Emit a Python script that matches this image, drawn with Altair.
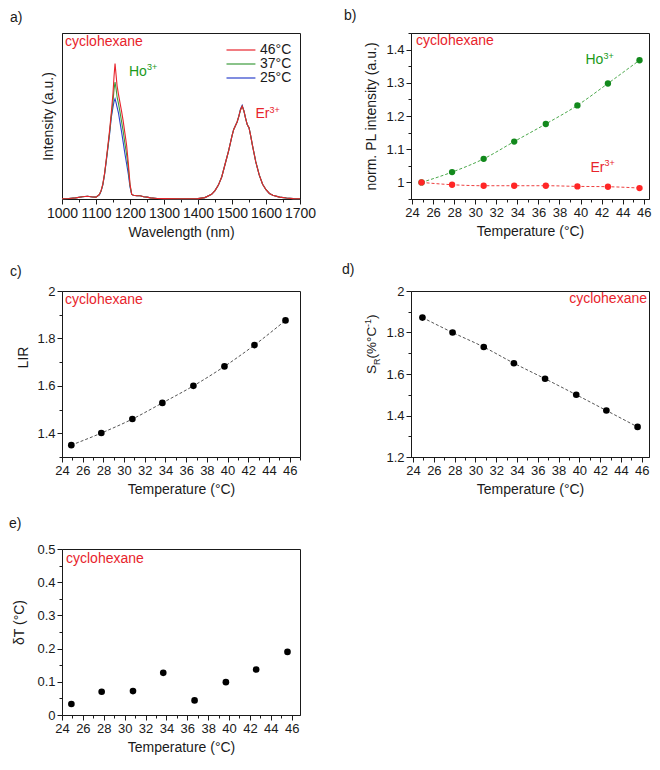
import altair as alt
import pandas as pd

FONT = "Liberation Sans, Arial, Helvetica, sans-serif"
INK = "#1a1a1a"
RED = "#e8242c"
GREEN_LINE = "#3b9b3b"
BLUE_LINE = "#2b40cc"
GREEN_DOT = "#12891c"
GREEN_DASH = "#4aa84a"
GREEN_TXT = "#1a9a1a"
RED_DOT = "#ff2626"
RED_DASH = "#ee4040"
BLACK_DASH = "#555555"
W, H = 238, 166

# ---------------- panel a : emission spectra ----------------
wavelength_nm = [1000, 1020, 1040, 1060, 1075, 1090, 1100,
                 1110, 1115, 1120, 1125, 1130, 1135, 1140, 1145,
                 1150, 1153, 1156, 1159, 1162, 1166, 1170, 1175, 1180, 1185, 1190, 1195, 1200, 1205,
                 1210, 1220, 1230, 1240, 1250, 1260, 1280, 1300, 1350, 1400,
                 1420, 1440, 1450, 1460, 1470, 1480, 1490, 1500,
                 1505, 1510, 1515, 1520, 1525, 1530, 1535, 1540, 1545, 1550, 1555, 1560,
                 1570, 1580, 1590, 1600, 1610, 1620, 1640, 1660, 1680, 1700]
intensity_25C = [0.003, 0.006, 0.012, 0.025, 0.03, 0.022, 0.02,
                 0.045, 0.085, 0.15, 0.26, 0.40, 0.55, 0.70, 0.88,
                 0.99, 1.05, 1.08, 1.04, 0.99, 0.93, 0.84, 0.73, 0.61, 0.49, 0.38, 0.27, 0.13, 0.05,
                 0.04, 0.035, 0.035, 0.025, 0.02, 0.012, 0.006, 0.004, 0.003, 0.004,
                 0.015, 0.05, 0.09, 0.15, 0.24, 0.38, 0.52, 0.68,
                 0.75, 0.79, 0.83, 0.89, 0.97, 1.01, 0.95, 0.87, 0.80, 0.77, 0.68, 0.58,
                 0.40, 0.26, 0.16, 0.10, 0.06, 0.04, 0.02, 0.01, 0.004, 0.003]
intensity_37C = [0.003, 0.006, 0.012, 0.025, 0.03, 0.022, 0.02,
                 0.048, 0.088, 0.155, 0.265, 0.41, 0.56, 0.72, 0.90,
                 1.05, 1.18, 1.26, 1.19, 1.10, 1.03, 0.95, 0.84, 0.73, 0.60, 0.48, 0.33, 0.15, 0.05,
                 0.04, 0.035, 0.035, 0.025, 0.02, 0.012, 0.006, 0.004, 0.003, 0.004,
                 0.015, 0.05, 0.09, 0.15, 0.24, 0.38, 0.52, 0.68,
                 0.75, 0.79, 0.83, 0.89, 0.96, 1.0, 0.95, 0.87, 0.80, 0.77, 0.68, 0.58,
                 0.40, 0.26, 0.16, 0.10, 0.06, 0.04, 0.02, 0.01, 0.004, 0.003]
intensity_46C = [0.003, 0.006, 0.012, 0.025, 0.03, 0.022, 0.02,
                 0.05, 0.09, 0.16, 0.27, 0.42, 0.58, 0.74, 0.93,
                 1.14, 1.32, 1.46, 1.34, 1.22, 1.13, 1.05, 0.95, 0.84, 0.71, 0.58, 0.39, 0.16, 0.05,
                 0.04, 0.035, 0.035, 0.025, 0.02, 0.012, 0.006, 0.004, 0.003, 0.004,
                 0.015, 0.05, 0.09, 0.15, 0.24, 0.38, 0.52, 0.68,
                 0.75, 0.79, 0.83, 0.89, 0.96, 1.0, 0.95, 0.87, 0.80, 0.77, 0.68, 0.58,
                 0.40, 0.26, 0.16, 0.10, 0.06, 0.04, 0.02, 0.01, 0.004, 0.003]
legend_order = ["46°C", "37°C", "25°C"]
draw_order = ["25°C", "37°C", "46°C"]

# ---------------- panels b-e ----------------
temperature_C = [24.9, 27.8, 30.8, 33.7, 36.7, 39.7, 42.6, 45.6]
ho_norm = [1.0, 1.031, 1.071, 1.123, 1.176, 1.232, 1.298, 1.368]
er_norm = [1.0, 0.993, 0.990, 0.990, 0.990, 0.988, 0.987, 0.983]
lir = [1.350, 1.401, 1.460, 1.528, 1.600, 1.682, 1.772, 1.876]
s_r = [1.872, 1.800, 1.730, 1.652, 1.577, 1.500, 1.424, 1.345]
delta_T = [0.033, 0.070, 0.072, 0.127, 0.044, 0.099, 0.137, 0.190]

# tick positions
wl_ticks = [1000, 1050, 1100, 1150, 1200, 1250, 1300, 1350, 1400, 1450, 1500, 1550, 1600, 1650, 1700]
temp_ticks = [24, 25, 26, 27, 28, 29, 30, 31, 32, 33, 34, 35, 36, 37, 38, 39, 40, 41, 42, 43, 44, 45, 46, 47]
ticks_b = [0.95, 1.0, 1.05, 1.1, 1.15, 1.2, 1.25, 1.3, 1.35, 1.4, 1.45]
ticks_c = [1.3, 1.4, 1.5, 1.6, 1.7, 1.8, 1.9, 2.0]
ticks_d = [1.2, 1.3, 1.4, 1.5, 1.6, 1.7, 1.8, 1.9, 2.0]
ticks_e = [0, 0.05, 0.1, 0.15, 0.2, 0.25, 0.3, 0.35, 0.4, 0.45, 0.5]

TENTHS = "abs(datum.value*10 - round(datum.value*10)) < 0.001"
FIFTHS = "abs(datum.value*5 - round(datum.value*5)) < 0.001"
EVEN = "datum.value % 2 == 0"


def axis_props(values, major, title, label_size=13, fmt="~g", **kw):
    return alt.Axis(values=values, title=title,
                    labelExpr=f"({major}) ? datum.label : ''",
                    tickSize={"condition": {"test": major, "value": 5}, "value": 3},
                    labelOverlap=False, labelFlush=False, labelFontSize=label_size, format=fmt,
                    grid=False, **kw)


def note(text, x, y, size=14, color=INK, align="left", angle=0):
    return alt.Chart(pd.DataFrame({"t": [text]})).mark_text(
        align=align, baseline="alphabetic", fontSize=size, font=FONT,
        color=color, angle=angle
    ).encode(text="t:N", x=alt.value(x), y=alt.value(y))


def temp_x(dom):
    return alt.X("T:Q", scale=alt.Scale(domain=dom, nice=False, zero=False),
                 axis=axis_props([v for v in temp_ticks if dom[0] <= v <= dom[1]], EVEN,
                                 "Temperature (°C)"))


# ---- panel a ----
n = len(wavelength_nm)
spectra = pd.DataFrame({
    "wl": wavelength_nm * 3,
    "I": intensity_25C + intensity_37C + intensity_46C,
    "S": ["25°C"] * n + ["37°C"] * n + ["46°C"] * n,
})
color_a = alt.Color("S:N", scale=alt.Scale(domain=legend_order, range=[RED, GREEN_LINE, BLUE_LINE]),
                    legend=alt.Legend(title=None, orient="none", legendX=172, legendY=10,
                                      symbolType="M-2.9,0H2.9", symbolSize=100, symbolStrokeWidth=1.2,
                                      labelFontSize=14, labelFont=FONT, labelColor=INK,
                                      labelOffset=12, rowPadding=0, padding=0))
x_a = alt.X("wl:Q", scale=alt.Scale(domain=[1000, 1700], nice=False, zero=False),
            axis=axis_props(wl_ticks, "datum.value % 100 == 0", "Wavelength (nm)",
                            label_size=14, fmt="d"))
y_a = alt.Y("I:Q", scale=alt.Scale(domain=[0, 1.79], nice=False),
            axis=alt.Axis(labels=False, ticks=False, title="Intensity (a.u.)", titlePadding=7))
lines_a = [alt.Chart(spectra).transform_filter(alt.datum.S == s).mark_line(strokeWidth=1.1)
           .encode(x=x_a, y=y_a, color=color_a) for s in draw_order]
panel_a = alt.layer(
    *lines_a,
    note("a)", -52, -11),
    note("cyclohexane", 3, 13, color=RED),
    note("Ho", 67, 42.5, color=GREEN_TXT),
    note("3+", 85, 37, size=9, color=GREEN_TXT),
    note("Er", 193.5, 85, color=RED),
    note("3+", 207.5, 79.5, size=9, color=RED),
).properties(width=W, height=H)

# ---- panel b ----
pl = pd.DataFrame({"T": temperature_C, "Ho": ho_norm, "Er": er_norm})
x_b = temp_x([23.9, 46.5])
y_scale_b = alt.Scale(domain=[0.95, 1.45], nice=False, zero=False)
axis_b = axis_props(ticks_b, TENTHS, "norm. PL intensity (a.u.)", titlePadding=7)
base_b = alt.Chart(pl)
panel_b = alt.layer(
    base_b.mark_line(color=GREEN_DASH, strokeDash=[3, 2], strokeWidth=1, interpolate="monotone")
    .encode(x=x_b, y=alt.Y("Ho:Q", scale=y_scale_b, axis=axis_b)),
    base_b.mark_circle(color=GREEN_DOT, size=40, opacity=1)
    .encode(x=x_b, y=alt.Y("Ho:Q", scale=y_scale_b, axis=axis_b)),
    base_b.mark_line(color=RED_DASH, strokeDash=[3, 2], strokeWidth=1, interpolate="monotone")
    .encode(x=x_b, y=alt.Y("Er:Q", scale=y_scale_b, axis=axis_b)),
    base_b.mark_circle(color=RED_DOT, size=40, opacity=1)
    .encode(x=x_b, y=alt.Y("Er:Q", scale=y_scale_b, axis=axis_b)),
    note("b)", -67, -13),
    note("cyclohexane", 5, 12, color=RED),
    note("Ho", 174.5, 31, color=GREEN_TXT),
    note("3+", 192.5, 25.5, size=9, color=GREEN_TXT),
    note("Er", 179.5, 138.5, color=RED),
    note("3+", 193.5, 133, size=9, color=RED),
).properties(width=W, height=H)

# ---- panel c ----
df_c = pd.DataFrame({"T": temperature_C, "v": lir})
x_c = temp_x([24, 47])
y_c = alt.Y("v:Q", scale=alt.Scale(domain=[1.3, 2.0], nice=False, zero=False),
            axis=axis_props(ticks_c, FIFTHS, "LIR", titlePadding=6, titleY=66))
panel_c = alt.layer(
    alt.Chart(df_c).mark_line(color=BLACK_DASH, strokeDash=[3, 2], strokeWidth=1, interpolate="monotone")
    .encode(x=x_c, y=y_c),
    alt.Chart(df_c).mark_circle(color="#000000", size=44, opacity=1).encode(x=x_c, y=y_c),
    note("c)", -52, -15),
    note("cyclohexane", 3, 13, color=RED),
).properties(width=W, height=H)

# ---- panel d ----
df_d = pd.DataFrame({"T": temperature_C, "v": s_r})
x_d = temp_x([23.8, 46.7])
y_d = alt.Y("v:Q", scale=alt.Scale(domain=[1.2, 2.0], nice=False, zero=False),
            axis=axis_props(ticks_d, FIFTHS, None))
panel_d = alt.layer(
    alt.Chart(df_d).mark_line(color=BLACK_DASH, strokeDash=[3, 2], strokeWidth=1, interpolate="monotone")
    .encode(x=x_d, y=y_d),
    alt.Chart(df_d).mark_circle(color="#000000", size=44, opacity=1).encode(x=x_d, y=y_d),
    note("d)", -69, -17),
    note("cyclohexane", 236, 12, color=RED, align="right"),
    note("S", -35, 83, size=13.5, angle=270),
    note("R", -31.5, 74, size=9, angle=270),
    note("(%°C", -35, 67.5, size=13.5, angle=270),
    note("-1", -40, 36, size=9, angle=270),
    note(")", -35, 28, size=13.5, angle=270),
).properties(width=W, height=H)

# ---- panel e ----
df_e = pd.DataFrame({"T": temperature_C, "v": delta_T})
x_e = temp_x([24, 46.8])
y_e = alt.Y("v:Q", scale=alt.Scale(domain=[0, 0.5], nice=False),
            axis=axis_props(ticks_e, TENTHS, "δT (°C)", titlePadding=10, titleY=73))
panel_e = alt.layer(
    alt.Chart(df_e).mark_circle(color="#000000", size=44, opacity=1).encode(x=x_e, y=y_e),
    note("e)", -53, -21),
    note("cyclohexane", 4, 13.5, color=RED),
).properties(width=W, height=H)

chart = alt.concat(
    panel_a, panel_b, panel_c, panel_d, panel_e,
    columns=2, spacing={"row": 92, "column": 111}, bounds="flush",
).properties(padding=0, background="white").configure_view(
    stroke=INK, strokeWidth=1
).configure_axis(
    domainColor=INK, tickColor=INK, labelColor=INK, titleColor=INK,
    labelFont=FONT, titleFont=FONT, titleFontSize=14, titleFontWeight="normal",
    labelFontSize=13, tickWidth=1, domainWidth=1, labelPadding=2, titlePadding=5, grid=False,
)

chart.save("out.html", embed_options={"renderer": "svg", "actions": False})
